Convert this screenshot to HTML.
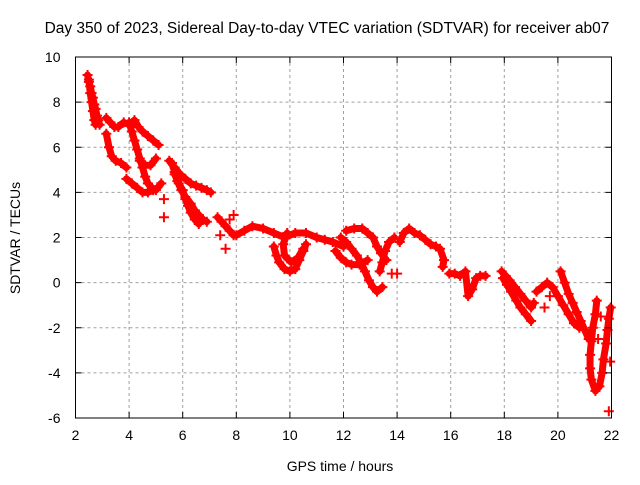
<!DOCTYPE html>
<html><head><meta charset="utf-8"><style>
body{margin:0;background:#fff}
svg{font-family:"Liberation Sans",sans-serif;font-size:14px}
</style></head><body>
<svg id="chart" width="640" height="480">
<text x="327" y="33" text-anchor="middle" style="font-size:15.5px">Day 350 of 2023, Sidereal Day-to-day VTEC variation (SDTVAR) for receiver ab07</text>
<text x="340" y="471" text-anchor="middle">GPS time / hours</text>
<text transform="translate(20,238) rotate(-90)" text-anchor="middle">SDTVAR / TECUs</text>
<g id="grid"></g><g id="marks"></g><g id="axes"></g>
</svg>
<script>
const xTicks=[2,4,6,8,10,12,14,16,18,20,22];
const yTicks=[-6,-4,-2,0,2,4,6,8,10];
const trackA=[[2.45,9.2],[2.5,8.9],[2.55,8.7],[2.6,8.4],[2.65,8.2],[2.7,7.9],[2.75,7.7],[2.8,7.4],[2.85,7.2],[2.9,7.0]];
const trackB=[[2.5,9.0],[2.55,8.4],[2.6,8.0],[2.65,7.6],[2.7,7.2],[2.75,7.0]];
const trackC=[[3.15,7.3],[3.3,7.1],[3.45,6.9],[3.6,6.9],[3.8,7.1],[4.0,7.0],[4.2,7.2],[4.35,6.9],[4.5,6.7],[4.7,6.5],[4.9,6.3],[5.1,6.1]];
const trackD=[[3.15,6.6],[3.25,6.0],[3.35,5.6],[3.5,5.4],[3.7,5.3],[3.9,5.1]];
const trackE=[[4.0,7.1],[4.1,6.7],[4.2,6.3],[4.3,5.9],[4.4,5.5],[4.5,5.1],[4.6,4.7],[4.7,4.4],[4.85,4.2],[5.0,4.1],[5.2,4.4]];
const trackF=[[3.9,4.6],[4.1,4.4],[4.3,4.2],[4.5,4.0],[4.7,4.0],[4.9,4.1]];
const trackG=[[4.4,5.4],[4.6,5.2],[4.8,5.2],[5.0,5.5]];
const trackH=[[5.5,5.4],[5.7,5.1],[5.9,4.8],[6.1,4.6],[6.3,4.4],[6.5,4.3],[6.7,4.2],[6.9,4.1],[7.05,4.0]];
const trackI=[[5.6,5.3],[5.7,4.9],[5.8,4.5],[5.95,4.1],[6.1,3.8],[6.3,3.5],[6.45,3.2],[6.6,3.0],[6.75,2.8],[6.9,2.7]];
const trackJ=[[5.7,4.8],[5.85,4.4],[6.0,4.1],[6.1,3.7],[6.2,3.4],[6.3,3.1],[6.45,2.8],[6.6,2.6]];
const trackK=[[5.3,3.7],[5.3,2.9],[7.6,1.5]];
const trackL=[[7.3,2.9],[7.45,2.7],[7.6,2.5],[7.75,2.3],[7.9,2.1],[7.4,2.1],[7.75,2.8],[7.9,3.0]];
const trackM=[[8.0,2.1],[8.3,2.3],[8.6,2.5],[9.0,2.4],[9.4,2.2],[9.8,2.0],[10.2,2.2],[10.6,2.2],[11.0,2.0],[11.3,1.9],[11.6,1.8],[12.0,1.6]];
const trackN=[[9.4,1.6],[9.5,1.2],[9.6,0.9],[9.8,0.6],[10.0,0.5],[10.2,0.6],[10.35,1.0],[10.5,1.4],[10.6,1.7]];
const trackO=[[9.9,2.2],[9.75,1.7],[9.8,1.2],[10.05,0.9],[10.3,1.1],[10.5,1.5]];
const trackP=[[11.9,2.0],[12.1,1.8],[12.3,1.5],[12.5,1.2],[12.65,0.9],[12.8,0.5],[12.95,0.1],[13.1,-0.2],[13.25,-0.4],[13.45,-0.2]];
const trackQ=[[12.1,2.3],[12.4,2.4],[12.7,2.4],[12.9,2.2],[13.1,2.0],[13.25,1.6],[13.4,1.3],[13.6,1.0]];
const trackR=[[11.7,1.4],[11.9,1.1],[12.1,0.9],[12.3,0.8],[12.6,0.8],[12.9,1.0]];
const trackS=[[13.35,0.5],[13.45,0.9],[13.55,1.4],[13.7,1.8],[13.9,2.0],[13.8,0.4],[14.0,0.4]];
const trackT=[[14.1,1.8],[14.25,2.2],[14.45,2.4],[14.65,2.2],[14.85,2.1],[15.05,1.9],[15.25,1.7],[15.45,1.6],[15.6,1.5],[15.75,1.0],[15.7,0.7]];
const trackU=[[15.95,0.4],[16.15,0.4],[16.35,0.3],[16.55,0.5],[16.65,-0.6],[16.8,-0.3],[16.95,0.2],[17.1,0.3],[17.3,0.3]];
const trackV=[[17.9,0.5],[18.05,0.3],[18.2,0.1],[18.4,-0.2],[18.6,-0.5],[18.8,-0.8],[19.0,-1.1],[19.1,-0.9]];
const trackW=[[17.95,0.2],[18.1,-0.1],[18.25,-0.4],[18.45,-0.8],[18.6,-1.1],[18.8,-1.4],[19.0,-1.7]];
const trackX=[[19.2,-0.4],[19.4,-0.2],[19.6,0.0],[19.8,-0.2],[20.0,-0.6],[20.2,-1.0],[20.4,-1.4],[20.6,-1.8],[20.8,-2.0],[19.5,-1.1],[19.7,-0.6]];
const trackY=[[20.1,0.5],[20.25,0.0],[20.4,-0.5],[20.55,-0.9],[20.7,-1.3],[20.85,-1.7],[21.0,-2.1],[21.15,-2.5]];
const trackZ=[[21.45,-0.8],[21.4,-1.4],[21.3,-2.0],[21.25,-2.6],[21.2,-3.2],[21.2,-3.8],[21.25,-4.3],[21.4,-4.8],[21.55,-4.6],[21.65,-4.0],[21.7,-3.4],[21.8,-2.7],[21.85,-2.1],[21.9,-1.6],[21.97,-1.1],[21.95,-3.5],[21.9,-5.7],[21.5,-2.5],[21.6,-1.5]];
const series=[trackA,trackB,trackC,trackD,trackE,trackF,trackG,trackH,trackI,trackJ,trackK,trackL,trackM,trackN,trackO,trackP,trackQ,trackR,trackS,trackT,trackU,trackV,trackW,trackX,trackY,trackZ];
const X0=75.5,X1=611.5,Y0=418,Y1=57;
function sx(v){return X0+(v-2)/20*(X1-X0);}
function sy(v){return Y0-(v+6)/16*(Y0-Y1);}
const NS="http://www.w3.org/2000/svg";
const grid=document.getElementById('grid'),axes=document.getElementById('axes'),marks=document.getElementById('marks');
function mk(t,a,p){const e=document.createElementNS(NS,t);for(const k in a)e.setAttribute(k,a[k]);p.appendChild(e);return e;}
xTicks.forEach(v=>{const x=sx(v);
 if(v>2&&v<22){const g=mk('line',{x1:x,y1:Y1,x2:x,y2:Y0,stroke:'#a0a0a0','stroke-dasharray':'3,3'},grid);
 
 }
 mk('line',{x1:x,y1:Y0,x2:x,y2:Y0-6,stroke:'#000'},axes);
 mk('line',{x1:x,y1:Y1,x2:x,y2:Y1+6,stroke:'#000'},axes);
 const t=mk('text',{x:x,y:Y0+22,'text-anchor':'middle'},axes);t.textContent=v;
 
 });
yTicks.forEach(v=>{const y=sy(v);
 if(v>-6&&v<10){const g=mk('line',{x1:X0,y1:y,x2:X1,y2:y,stroke:'#a0a0a0','stroke-dasharray':'3,3'},grid);
 
 }
 mk('line',{x1:X0,y1:y,x2:X0+6,y2:y,stroke:'#000'},axes);
 mk('line',{x1:X1,y1:y,x2:X1-6,y2:y,stroke:'#000'},axes);
 const t=mk('text',{x:X0-15,y:y+5,'text-anchor':'end'},axes);t.textContent=v;
 
 });
const fr=mk('rect',{x:X0,y:Y1,width:X1-X0,height:Y0-Y1,fill:'none',stroke:'#000'},axes);


series.forEach((s,i)=>{
 const g=mk('g',{},marks);
 
 
 if(i!==10){const pl=mk('polyline',{points:s.filter((p,j)=>!(i===25&&j>=15)&&!(i===18&&j>=5)&&!(i===23&&j>=9)&&!(i===11&&j>=5)).map(p=>sx(p[0])+','+sy(p[1])).join(' '),fill:'none',stroke:'#f00','stroke-width':7,'stroke-linejoin':'round','stroke-linecap':'round'},g);}
 s.forEach(p=>{const x=sx(p[0]),y=sy(p[1]);
  const m=mk('path',{d:`M${x-5},${y}H${x+5}M${x},${y-5}V${y+5}`,stroke:'#f00','stroke-width':2},g);
  
  });
});
</script>
</body></html>
